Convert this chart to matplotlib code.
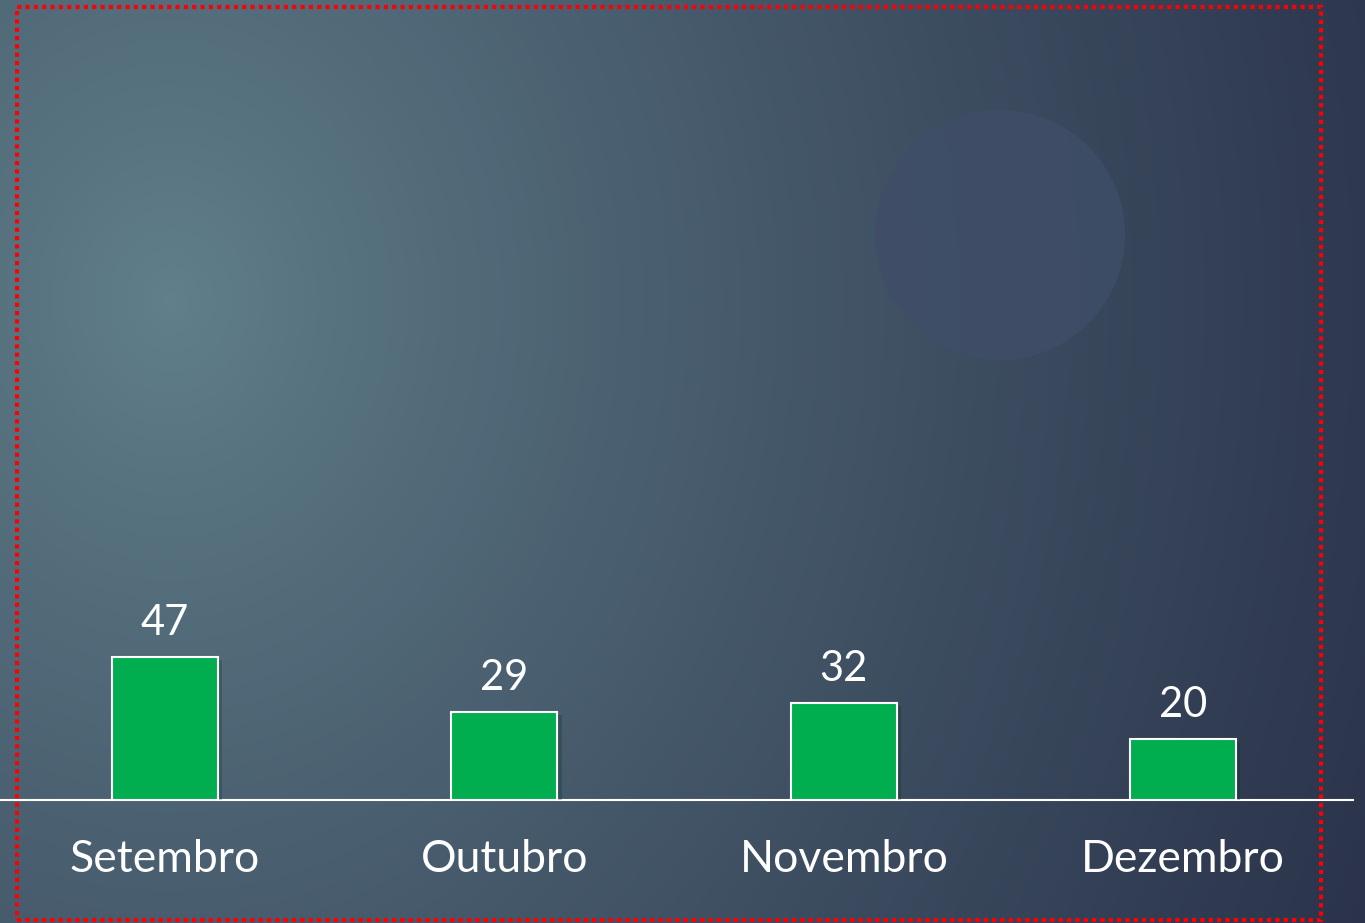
import numpy as np
import matplotlib.pyplot as plt
from matplotlib.patches import Rectangle, Circle
from matplotlib import patheffects as pe
from matplotlib.colors import to_rgb

months = ['Setembro', 'Outubro', 'Novembro', 'Dezembro']
values = [47, 29, 32, 20]

plt.rcParams['font.family'] = ['Lato', 'DejaVu Sans']

W, H = 1365, 923
fig = plt.figure(figsize=(W / 100, H / 100), dpi=100)

# background: soft gradient, lighter teal at upper left, dark navy to the right
bg = fig.add_axes([0, 0, 1, 1], zorder=0)
yy, xx = np.mgrid[0:H, 0:W]
d = np.sqrt(((xx - 170) / 1350.0) ** 2 + ((yy - 300) / 1600.0) ** 2)
t = np.clip(d, 0, 1) ** 0.85
light = np.array(to_rgb('#61808b'))
dark = np.array(to_rgb('#293149'))
img = light[None, None, :] * (1 - t[..., None]) + dark[None, None, :] * t[..., None]
bg.imshow(img, extent=[0, W, H, 0], aspect='auto')
bg.add_patch(Circle((1000, 235), 125, color='#3f4e67', alpha=0.85, lw=0))
bg.set_xlim(0, W)
bg.set_ylim(H, 0)
bg.axis('off')

# chart
ax = fig.add_axes([0, 123 / H, 1353 / W, 790 / H], zorder=1)
ax.patch.set_alpha(0)
x = np.arange(len(months))
bars = ax.bar(x, values, width=0.312, color='#00ae4f', edgecolor='white', linewidth=1.5,
              zorder=3)
for b in bars:
    b.set_path_effects([pe.SimplePatchShadow(offset=(3, -2), alpha=0.25), pe.Normal()])

for i, v in enumerate(values):
    ax.annotate(str(v), (i, v), xytext=(0, 16), textcoords='offset points',
                ha='center', va='baseline', color='white', fontsize=30)
    ax.annotate(months[i], (i, 0), xytext=(0, -52), textcoords='offset points',
                ha='center', va='baseline', color='white', fontsize=32)

ax.set_xlim(-0.486, 3.5)
ax.set_ylim(0, 260)
ax.set_xticks([])
ax.set_yticks([])
for s in ['top', 'right', 'left']:
    ax.spines[s].set_visible(False)
ax.spines['bottom'].set_color('white')
ax.spines['bottom'].set_linewidth(1.5)

# red dotted frame
fig.patches.append(Rectangle((17 / W, 3 / H), 1304 / W, 913 / H, transform=fig.transFigure,
                             fill=False, edgecolor='red', linewidth=3,
                             linestyle=(0, (1, 1)), zorder=5))

fig.savefig('out.png', dpi=100)
